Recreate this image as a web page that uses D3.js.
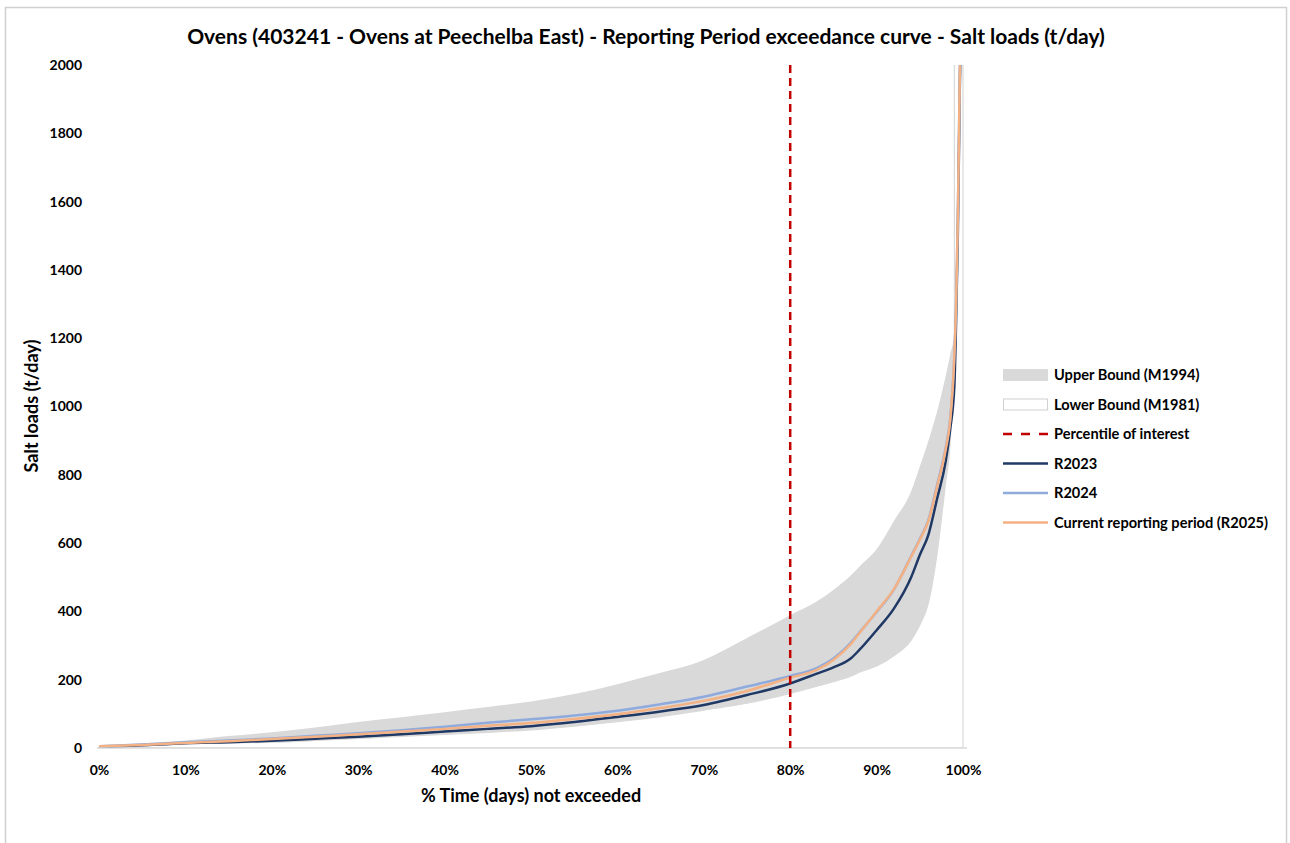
<!DOCTYPE html>
<html>
<head>
<meta charset="utf-8">
<script src="https://cdn.jsdelivr.net/npm/d3@7"></script>
<style>
  html, body { margin: 0; padding: 0; background: #fff; }
  svg { display: block; font-family: Lato, "Open Sans", sans-serif; }
</style>
</head>
<body>
<svg id="chart" width="1290" height="843"></svg>
<script>
// Exceedance percentiles (% time not exceeded)
const pct = [0, 5, 10, 15, 20, 25, 30, 35, 40, 45, 50, 55, 60, 65, 70, 75, 80, 83, 85, 87, 88, 90, 92, 94, 95, 96, 97, 98, 98.5, 99, 99.2, 99.4, 99.6, 99.8, 100];

// Bound envelope (t/day)
const upperBound = [6, 14, 22, 35, 46, 60, 76, 90, 105, 120, 136, 158, 187, 220, 258, 322, 389, 428, 463, 505, 531, 582, 665, 752, 824, 900, 985, 1090, 1150, 1215, 30000, 30000, 30000, 30000, 30000];
const lowerBound = [3, 6, 12, 15, 17, 22, 28, 34, 40, 46, 53, 64, 77, 92, 111, 131, 160, 180, 194, 210, 222, 240, 270, 316, 360, 425, 570, 780, 890, 1195, 30000, 30000, 30000, 30000, 30000];

// Reporting period salt loads (t/day)
const r2023 = [2, 8, 14, 17, 21, 27, 33, 40, 48, 56, 64, 76, 91, 107, 126, 155, 189, 217, 236, 262, 287, 345, 408, 500, 565, 625, 730, 840, 930, 1060, 1250, 1500, 1880, 2300, 6000];
const r2024 = [5, 10, 17, 22, 28, 36, 43, 52, 62, 74, 84, 95, 109, 128, 150, 180, 211, 233, 262, 308, 338, 398, 464, 562, 612, 668, 770, 880, 960, 1150, 1300, 1550, 1920, 2300, 6000];
const r2025 = [5, 9, 15, 20, 26, 33, 40, 48, 56, 65, 73, 85, 99, 117, 138, 167, 206, 228, 258, 304, 336, 400, 465, 560, 610, 665, 765, 875, 955, 1150, 1300, 1550, 1920, 2300, 6000];

const percentileOfInterest = 80;

const xTicks = [0, 10, 20, 30, 40, 50, 60, 70, 80, 90, 100];
const yTicks = [0, 200, 400, 600, 800, 1000, 1200, 1400, 1600, 1800, 2000];

const legendItems = ["Upper Bound (M1994)", "Lower Bound (M1981)", "Percentile of interest", "R2023", "R2024", "Current reporting period (R2025)"];

const colors = {
  band: "#d9d9d9",
  r2023: "#203864",
  r2024: "#8faadc",
  r2025: "#f4b183",
  pct: "#c00000",
  axis: "#d9d9d9",
  text: "#000"
};

const svg = d3.select("#chart");

// outer chart frame
svg.append("rect")
  .attr("x", 5.5).attr("y", 7.5)
  .attr("width", 1281).attr("height", 850)
  .attr("fill", "#fff").attr("stroke", "#d0d0d0").attr("stroke-width", 1.5);

const plot = { left: 99, right: 963, top: 65, bottom: 748 };

const x = d3.scaleLinear().domain([0, 100]).range([plot.left, plot.right]);
const y = d3.scaleLinear().domain([0, 2000]).range([plot.bottom, plot.top]);

svg.append("clipPath").attr("id", "plotClip")
  .append("rect")
  .attr("x", plot.left - 3).attr("y", plot.top)
  .attr("width", plot.right - plot.left + 6).attr("height", plot.bottom - plot.top);

const g = svg.append("g").attr("clip-path", "url(#plotClip)");

const rows = pct.map((p, i) => ({ p, up: upperBound[i], lo: lowerBound[i], a: r2023[i], b: r2024[i], c: r2025[i] }));

const curve = d3.curveMonotoneX;
const area = key => d3.area().curve(curve).x(d => x(d.p)).y0(y(0)).y1(d => y(d[key]));
const line = key => d3.line().curve(curve).x(d => x(d.p)).y(d => y(d[key]));

// shaded envelope: upper bound filled grey, lower bound masked in white
g.append("path").datum(rows).attr("d", area("up")).attr("fill", colors.band);
g.append("path").datum(rows).attr("d", area("lo"))
  .attr("fill", "#fff").attr("stroke", "#d9d9d9").attr("stroke-width", 1.2);

// x axis line
svg.append("line")
  .attr("x1", x(0) - 2).attr("x2", x(100) + 4)
  .attr("y1", y(0)).attr("y2", y(0))
  .attr("stroke", colors.axis).attr("stroke-width", 1.5);

// percentile of interest marker
svg.append("line")
  .attr("x1", x(percentileOfInterest)).attr("x2", x(percentileOfInterest))
  .attr("y1", y(2000)).attr("y2", y(0))
  .attr("stroke", colors.pct).attr("stroke-width", 2.5)
  .attr("stroke-dasharray", "8,5");

// reporting period curves
[["a", colors.r2023], ["b", colors.r2024], ["c", colors.r2025]].forEach(([k, col]) => {
  g.append("path").datum(rows).attr("d", line(k))
    .attr("fill", "none").attr("stroke", col).attr("stroke-width", 2.5)
    .attr("stroke-linejoin", "round");
});

// axes labels via d3 axis generators
const xAxis = d3.axisBottom(x).tickValues(xTicks).tickFormat(d => d + "%").tickSize(0).tickPadding(17);
svg.append("g").attr("transform", `translate(0,${plot.bottom})`).call(xAxis)
  .call(s => s.select(".domain").remove())
  .selectAll("text").attr("font-size", 14).attr("font-weight", "bold")
  .attr("fill", colors.text).attr("font-family", "Lato, sans-serif");

const yAxis = d3.axisLeft(y).tickValues(yTicks).tickFormat(d3.format("d")).tickSize(0).tickPadding(17);
svg.append("g").attr("transform", `translate(${plot.left},0)`).call(yAxis)
  .call(s => s.select(".domain").remove())
  .selectAll("text").attr("font-size", 14).attr("font-weight", "bold")
  .attr("fill", colors.text).attr("font-family", "Lato, sans-serif");

// title
svg.append("text")
  .attr("x", 646).attr("y", 44)
  .attr("text-anchor", "middle")
  .attr("font-size", 21).attr("font-weight", "bold").attr("fill", colors.text)
  .text("Ovens (403241 - Ovens at Peechelba East) - Reporting Period exceedance curve - Salt loads (t/day)");

// axis titles
svg.append("text")
  .attr("x", 531).attr("y", 802)
  .attr("text-anchor", "middle")
  .attr("font-size", 18).attr("font-weight", "bold").attr("fill", colors.text)
  .text("% Time (days) not exceeded");

svg.append("text")
  .attr("transform", "translate(38,406) rotate(-90)")
  .attr("text-anchor", "middle")
  .attr("font-size", 18).attr("font-weight", "bold").attr("fill", colors.text)
  .text("Salt loads (t/day)");

// legend
const legend = svg.append("g").attr("transform", "translate(1003,375)");
legendItems.forEach((label, i) => {
  const row = legend.append("g").attr("transform", `translate(0,${i * 29.5})`);
  if (i === 0) {
    row.append("rect").attr("x", 0).attr("y", -6).attr("width", 45).attr("height", 12).attr("fill", colors.band);
  } else if (i === 1) {
    row.append("rect").attr("x", 0.5).attr("y", -5.5).attr("width", 44).attr("height", 11)
      .attr("fill", "#fff").attr("stroke", "#d0d0d0").attr("stroke-width", 1);
  } else if (i === 2) {
    row.append("line").attr("x1", 0).attr("x2", 45).attr("y1", 0).attr("y2", 0)
      .attr("stroke", colors.pct).attr("stroke-width", 2.5).attr("stroke-dasharray", "9,9");
  } else {
    const col = [colors.r2023, colors.r2024, colors.r2025][i - 3];
    row.append("line").attr("x1", 0).attr("x2", 45).attr("y1", 0).attr("y2", 0)
      .attr("stroke", col).attr("stroke-width", 2.5);
  }
  row.append("text").attr("x", 51).attr("y", 5)
    .attr("font-size", 14.6).attr("font-weight", "bold").attr("fill", colors.text)
    .text(label);
});
</script>
</body>
</html>
